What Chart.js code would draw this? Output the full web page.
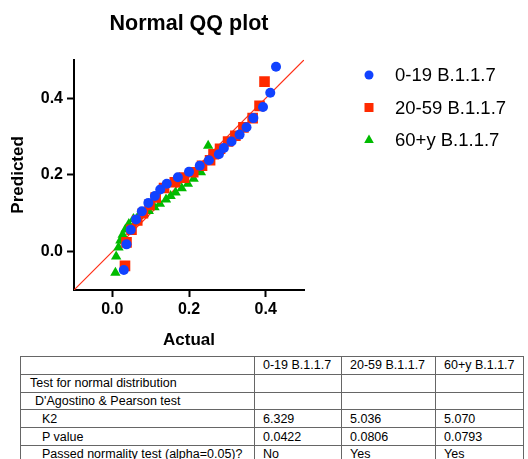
<!DOCTYPE html>
<html>
<head>
<meta charset="utf-8">
<script src="https://cdn.jsdelivr.net/npm/chart.js@4.4.1/dist/chart.umd.min.js"></script>
<style>
    body { margin: 0; background: #fff; font-family: 'Liberation Sans', Arial, sans-serif; }
    #wrap { position: relative; width: 528px; height: 459px; overflow: hidden; }
    #qq { position: absolute; left: 0; top: 0; }
    #stats { position: absolute; left: 20px; top: 356px; border-collapse: collapse; table-layout: fixed;
             font-size: 12.5px; color: #000; }
    #stats td { border: 1px solid #666; padding: 0 0 0 8px; white-space: nowrap; overflow: hidden; }
    #stats tr { height: 17.8px; }
</style>
</head>
<body>
<div id="wrap">
    <canvas id="qq" width="528" height="356"></canvas>
    <table id="stats">
        <colgroup><col style="width:234px"><col style="width:87px"><col style="width:94px"><col style="width:88px"></colgroup>
        <tbody></tbody>
    </table>
</div>
<script>
// series names
const seriesNames = ['0-19 B.1.1.7', '20-59 B.1.1.7', '60+y B.1.1.7'];

// 0-19 (blue circles)
const actual0 = [0.030, 0.037, 0.048, 0.062, 0.077, 0.094, 0.111, 0.125, 0.142, 0.171, 0.200,
                 0.228, 0.252, 0.278, 0.291, 0.311, 0.332, 0.350, 0.368, 0.393, 0.412, 0.427];
const predicted0 = [-0.048, 0.019, 0.057, 0.084, 0.105, 0.127, 0.145, 0.162, 0.177, 0.194, 0.208,
                    0.224, 0.238, 0.254, 0.270, 0.287, 0.305, 0.324, 0.348, 0.377, 0.414, 0.482];

// 20-59 (red squares)
const actual1 = [0.033, 0.037, 0.050, 0.065, 0.080, 0.097, 0.113, 0.135, 0.163, 0.187, 0.211,
                 0.234, 0.255, 0.264, 0.281, 0.302, 0.321, 0.342, 0.366, 0.384, 0.397];
const predicted1 = [-0.037, 0.024, 0.057, 0.081, 0.100, 0.122, 0.141, 0.166, 0.181, 0.193, 0.207,
                    0.224, 0.238, 0.254, 0.268, 0.287, 0.302, 0.324, 0.348, 0.380, 0.443];

// 60+y (green triangles)
const actual2 = [0.008, 0.010, 0.016, 0.021, 0.027, 0.034, 0.043, 0.055, 0.068, 0.082, 0.095,
                 0.110, 0.124, 0.140, 0.152, 0.165, 0.181, 0.197, 0.212, 0.231, 0.250];
const predicted2 = [-0.055, -0.013, 0.011, 0.029, 0.044, 0.058, 0.072, 0.085, 0.093, 0.099, 0.106,
                    0.116, 0.125, 0.136, 0.145, 0.154, 0.165, 0.177, 0.190, 0.207, 0.276];

// identity line ends and ticks
const identityEnds = [-0.1, 0.5];
const xTickValues = [0.0, 0.2, 0.4];
const yTickValues = [0.0, 0.2, 0.4];

// table
const tableHeader = ['', '0-19 B.1.1.7', '20-59 B.1.1.7', '60+y B.1.1.7'];
const tableLabels = ['Test for normal distribution', "D'Agostino & Pearson test", 'K2', 'P value', 'Passed normality test (alpha=0.05)?'];
const tableIndent = [9, 14, 21, 21, 21];
const tableValues = [
    ['', '', ''],
    ['', '', ''],
    ['6.329', '5.036', '5.070'],
    ['0.0422', '0.0806', '0.0793'],
    ['No', 'Yes', 'Yes']
];

const colors = ['#1142ff', '#ff2a00', '#00bb00'];
const styles = ['circle', 'rect', 'triangle'];
const radii = [5, 7.5, 6];
const FONT = "'Liberation Sans', Arial, sans-serif";

function toPoints(xs, ys) {
    return xs.map((x, i) => ({ x: x, y: ys[i] }));
}

// fill the table
const tbody = document.querySelector('#stats tbody');
let rowsHtml = '<tr>' + tableHeader.map(h => `<td>${h}</td>`).join('') + '</tr>';
tableLabels.forEach((label, i) => {
    rowsHtml += `<tr><td style="padding-left:${tableIndent[i]}px">${label}</td>` +
        tableValues[i].map(v => `<td>${v}</td>`).join('') + '</tr>';
});
tbody.innerHTML = rowsHtml;

// legend drawn at right
const sideLegend = {
    id: 'sideLegend',
    afterDraw(chart) {
        const ctx = chart.ctx;
        ctx.save();
        ctx.font = '18.5px ' + FONT;
        ctx.textBaseline = 'middle';
        seriesNames.forEach((name, i) => {
            const y = 75 + i * 32.5;
            const x = 369;
            ctx.fillStyle = colors[i];
            ctx.beginPath();
            if (styles[i] === 'circle') {
                ctx.arc(x, y, 4.5, 0, Math.PI * 2);
            } else if (styles[i] === 'rect') {
                ctx.rect(x - 4.5, y - 4.5, 9, 9);
            } else {
                ctx.moveTo(x, y - 5.5);
                ctx.lineTo(x + 4.8, y + 3);
                ctx.lineTo(x - 4.8, y + 3);
                ctx.closePath();
            }
            ctx.fill();
            ctx.fillStyle = '#000';
            ctx.fillText(name, 395, y + 1);
        });
        ctx.restore();
    }
};

const datasets = seriesNames.map((name, i) => ({
    label: name,
    data: toPoints([actual0, actual1, actual2][i], [predicted0, predicted1, predicted2][i]),
    pointStyle: styles[i],
    pointRadius: radii[i],
    pointHoverRadius: radii[i],
    pointBackgroundColor: colors[i],
    pointBorderWidth: 0,
    borderColor: colors[i],
    showLine: false
}));

// y = x reference line, drawn under the points
datasets.push({
    type: 'line',
    label: 'identity',
    data: toPoints(identityEnds, identityEnds),
    borderColor: 'rgb(255, 45, 20)',
    backgroundColor: 'rgb(255, 45, 20)',
    borderWidth: 1.2,
    pointRadius: 0,
    fill: false,
    tension: 0
});

function axis(ticksWanted, title, isX) {
    return {
        type: 'linear',
        min: -0.1,
        max: 0.5,
        afterBuildTicks: s => { s.ticks = ticksWanted.map(v => ({ value: v })); },
        afterFit: s => { if (isX) s.height = 66; else s.width = 74; },
        border: { display: true, color: '#000', width: 2 },
        grid: { display: true, drawOnChartArea: false, drawTicks: true, tickLength: 7, tickWidth: 2, tickColor: '#000' },
        ticks: {
            color: '#000',
            padding: isX ? 3 : 4,
            font: { family: FONT, size: 16, weight: 'bold' },
            callback: v => Number(v).toFixed(1)
        },
        title: {
            display: true,
            text: title,
            color: '#000',
            font: { family: FONT, size: 17, weight: 'bold' },
            padding: isX ? { top: 0, bottom: 5 } : { top: 8, bottom: 0 }
        }
    };
}

new Chart(document.getElementById('qq'), {
    type: 'scatter',
    data: { datasets: datasets },
    options: {
        responsive: false,
        animation: false,
        devicePixelRatio: 1,
        layout: { padding: { left: 0, right: 224, top: 0, bottom: 0 } },
        plugins: {
            legend: { display: false },
            tooltip: { enabled: false },
            title: {
                display: true,
                text: 'Normal QQ plot',
                fullSize: false,
                color: '#000',
                font: { family: FONT, size: 21.5, weight: 'bold' },
                padding: { top: 11, bottom: 23 }
            }
        },
        scales: {
            x: axis(xTickValues, 'Actual', true),
            y: axis(yTickValues, 'Predicted', false)
        }
    },
    plugins: [sideLegend]
});
</script>
</body>
</html>
